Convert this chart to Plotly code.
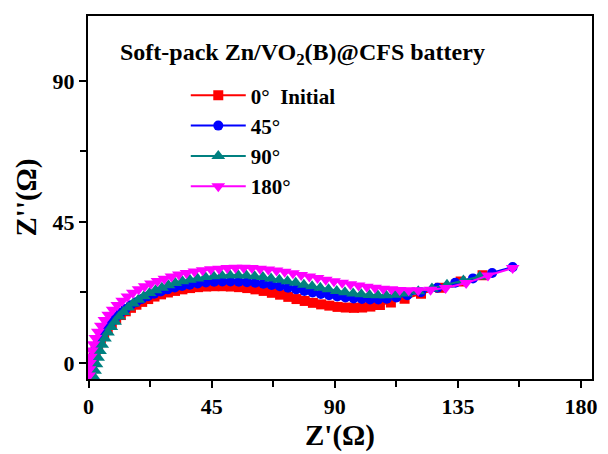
import plotly.graph_objects as go

# ---- data ----
x_0 = [0.6, 0.9, 1.3, 1.9, 2.6, 3.5, 4.5, 5.7, 7.0, 8.5, 10.1, 11.8, 13.6, 15.5, 17.5, 19.6, 21.8, 24.1, 26.5, 29.0,
       31.6, 34.3, 37.1, 40.0, 43.0, 46.0, 49.0, 52.0, 55.0, 58.0, 61.0, 64.0, 67.0, 70.0, 73.0, 76.0, 79.0, 82.0,
       85.0, 88.0, 91.0, 94.0, 97.0, 100.0, 103.0, 106.5, 110.5, 115.5, 121.5, 128.5, 136.0, 144.0]
y_0 = [-4.0, -2.0, 0.0, 2.0, 4.0, 6.0, 7.8, 9.5, 11.1, 12.6, 14.0, 15.3, 16.5, 17.6, 18.6, 19.5, 20.4, 21.2, 21.9, 22.5,
       23.0, 23.5, 23.9, 24.2, 24.4, 24.5, 24.5, 24.4, 24.2, 23.9, 23.5, 23.0, 22.4, 21.8, 21.1, 20.4, 19.8, 19.2,
       18.7, 18.3, 17.9, 17.7, 17.6, 17.7, 18.0, 18.5, 19.3, 20.5, 22.1, 24.0, 26.0, 28.0]

x_45 = [0.5, 0.8, 1.2, 1.8, 2.5, 3.4, 4.4, 5.6, 6.9, 8.4, 10.0, 11.7, 13.5, 15.4, 17.4, 19.5, 21.7, 24.0, 26.4, 28.9,
        31.5, 34.2, 37.0, 39.9, 42.9, 45.9, 48.9, 51.9, 54.9, 57.9, 60.9, 63.9, 66.9, 69.9, 72.9, 75.9, 78.9, 81.9,
        84.9, 87.9, 90.9, 93.9, 96.9, 99.9, 102.9, 105.9, 109.0, 112.5, 116.5, 121.5, 127.5, 134.0, 140.5, 147.5, 155.0]
y_45 = [-4.0, -2.0, 0.1, 2.2, 4.3, 6.3, 8.2, 10.0, 11.7, 13.2, 14.7, 16.0, 17.2, 18.4, 19.4, 20.4, 21.3, 22.1, 22.8, 23.5,
        24.1, 24.6, 25.0, 25.4, 25.7, 25.9, 26.0, 26.0, 25.9, 25.8, 25.6, 25.3, 24.9, 24.5, 24.0, 23.5, 23.0, 22.5,
        22.0, 21.6, 21.2, 20.9, 20.6, 20.4, 20.3, 20.3, 20.5, 20.9, 21.6, 22.6, 24.0, 25.6, 27.0, 28.7, 30.6]

x_90 = [2.0, 2.4, 2.9, 3.5, 4.2, 5.0, 6.0, 7.1, 8.3, 9.7, 11.2, 12.8, 14.5, 16.3, 18.2, 20.2, 22.3, 24.5, 26.8, 29.2,
        31.7, 34.3, 37.0, 39.8, 42.7, 45.7, 48.7, 51.7, 54.7, 57.7, 60.7, 63.7, 66.7, 69.7, 72.7, 75.7, 78.7, 81.7,
        84.7, 87.7, 90.7, 93.7, 96.7, 99.7, 102.7, 105.7, 108.7, 112.0, 116.0, 120.5, 125.5, 131.0, 137.0, 143.0]
y_90 = [-4.5, -2.5, -0.4, 1.7, 3.8, 5.8, 7.8, 9.7, 11.5, 13.2, 14.8, 16.3, 17.7, 19.0, 20.2, 21.3, 22.3, 23.2, 24.0, 24.8,
        25.5, 26.1, 26.6, 27.0, 27.4, 27.7, 27.9, 28.0, 28.0, 27.9, 27.7, 27.4, 27.0, 26.6, 26.1, 25.6, 25.0, 24.5,
        24.0, 23.5, 23.0, 22.6, 22.2, 21.9, 21.7, 21.6, 21.6, 21.8, 22.2, 22.9, 23.8, 25.0, 26.3, 27.6]

x_180 = [0.2, 0.3, 0.5, 0.8, 1.2, 1.8, 2.5, 3.4, 4.5, 5.8, 7.2, 8.8, 10.5, 12.3, 14.2, 16.2, 18.3, 20.5, 22.8, 25.2,
         27.7, 30.3, 33.0, 35.8, 38.7, 41.7, 44.7, 47.7, 50.7, 53.7, 56.7, 59.7, 62.7, 65.7, 68.7, 71.7, 74.7, 77.7,
         80.7, 83.7, 86.7, 89.7, 92.7, 95.7, 98.7, 101.7, 104.7, 107.7, 110.7, 113.7, 117.0, 120.5, 125.0, 130.5,
         138.0, 146.0, 155.0]
y_180 = [-4.0, -2.0, 0.0, 2.0, 4.0, 6.0, 8.0, 10.0, 11.9, 13.7, 15.4, 17.0, 18.5, 19.9, 21.2, 22.4, 23.5, 24.5, 25.4, 26.2,
         26.9, 27.6, 28.2, 28.7, 29.2, 29.6, 29.9, 30.1, 30.3, 30.4, 30.4, 30.3, 30.1, 29.8, 29.5, 29.1, 28.6, 28.1,
         27.6, 27.1, 26.6, 26.1, 25.6, 25.1, 24.7, 24.3, 24.0, 23.7, 23.5, 23.3, 23.2, 23.2, 23.4, 23.9,
         25.5, 27.9, 30.3]

series_names = ["0°\u00a0\u00a0Initial", "45°", "90°", "180°"]
series_x = [x_0, x_45, x_90, x_180]
series_y = [y_0, y_45, y_90, y_180]
colors = ["#FF0000", "#0000FF", "#008080", "#FF00FF"]
symbols = ["square", "circle", "triangle-up", "triangle-down"]
msizes = [10, 10, 12, 12]

x_ticks = [0, 45, 90, 135, 180]
y_ticks = [0, 45, 90]

FONT = "Liberation Serif"

fig = go.Figure()
for name, xs, ys, c, s, ms in zip(series_names, series_x, series_y, colors, symbols, msizes):
    fig.add_trace(go.Scatter(
        x=xs, y=ys, name=name, mode="lines+markers",
        line=dict(color=c, width=2),
        marker=dict(symbol=s, size=ms, color=c, line=dict(width=0)),
    ))

axis_common = dict(
    showline=True, linecolor="black", linewidth=2, mirror=True,
    ticks="outside", ticklen=7, tickwidth=2, tickcolor="black",
    showgrid=False, zeroline=False,
    tickfont=dict(family=FONT, size=22, color="black", weight="bold"),
    minor=dict(ticks="outside", ticklen=6, tickwidth=2, tickcolor="black", dtick=22.5, showgrid=False),
)

fig.update_xaxes(
    range=[-0.2, 184], tickmode="array", tickvals=x_ticks, ticktext=[str(v) for v in x_ticks],
    title=dict(text="Z'(Ω)", font=dict(family=FONT, size=29, color="black", weight="bold"), standoff=0),
    **axis_common,
)
fig.update_yaxes(
    range=[-5.1, 110.7], tickmode="array", tickvals=y_ticks, ticktext=[str(v) for v in y_ticks],
    title=dict(text="Z''(Ω)", font=dict(family=FONT, size=29, color="black", weight="bold"), standoff=7),
    **axis_common,
)

fig.add_annotation(
    text="Soft-pack Zn/VO<sub>2</sub>(B)@CFS battery",
    xref="paper", yref="paper", x=0.426, y=0.895, xanchor="center", yanchor="middle",
    showarrow=False, font=dict(family=FONT, size=24, color="black", weight="bold"),
)

fig.update_layout(
    width=608, height=454,
    margin=dict(l=87.5, r=10.5, t=16, b=75),
    paper_bgcolor="white", plot_bgcolor="white",
    showlegend=True,
    legend=dict(
        x=0.194, y=0.837, xanchor="left", yanchor="top",
        font=dict(family=FONT, size=21, color="black", weight="bold"),
        bgcolor="rgba(0,0,0,0)", tracegroupgap=0, itemwidth=55,
    ),
)

fig.write_html("out.html")
